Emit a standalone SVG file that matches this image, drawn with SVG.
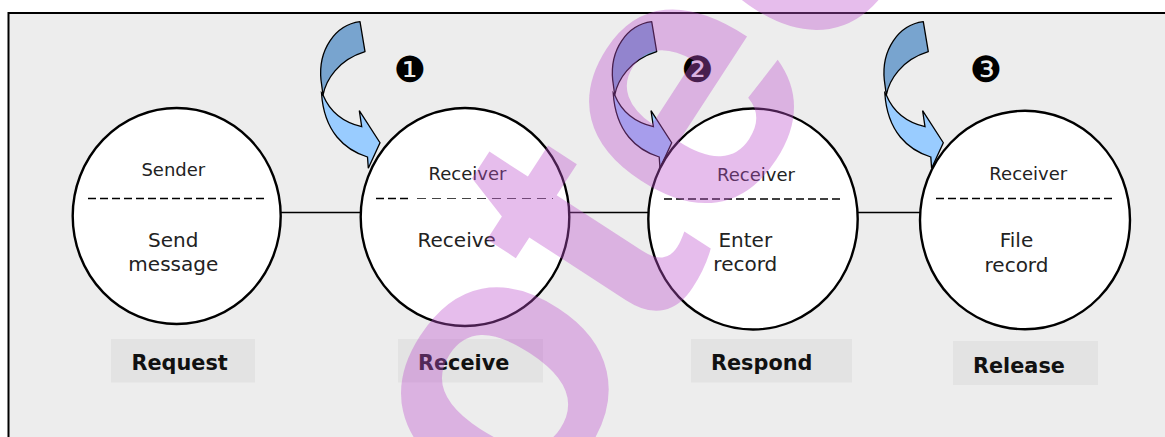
<svg xmlns="http://www.w3.org/2000/svg" width="1165" height="437" viewBox="0 0 1165 437">
  <style>
    .frame { fill: #ededed; stroke: #000; stroke-width: 2; }
    .node { fill: #fff; stroke: #000; stroke-width: 2.4; }
    .link { stroke: #000; stroke-width: 1.7; fill: none; }
    .divider { stroke: #000; stroke-width: 1.6; stroke-dasharray: 8 4; fill: none; }
    .divider-thin { stroke: #444; stroke-width: 1; stroke-dasharray: 9 6; fill: none; }
    .role { font-family: "DejaVu Sans", Verdana, sans-serif; font-size: 18px; fill: #222; text-anchor: middle; }
    .task { font-family: "DejaVu Sans", Verdana, sans-serif; font-size: 20px; fill: #222; text-anchor: middle; }
    .stage-box { fill: #e3e3e3; }
    .stage { font-family: "DejaVu Sans", Verdana, sans-serif; font-size: 20.8px; font-weight: bold; fill: #111; }
    .step { font-family: "DejaVu Sans", sans-serif; font-size: 36px; fill: #000; text-anchor: middle; }
    .band-back { fill: #78a4cf; stroke: #000; stroke-width: 1.3; stroke-linejoin: round; }
    .band-front { fill: #99ccff; stroke: #000; stroke-width: 1.3; stroke-linejoin: miter; }
    .mark { font-family: "Liberation Sans", Arial, sans-serif; font-weight: bold; font-size: 370px; fill: #be52cd; fill-opacity: 0.38; }
  </style>
  <defs>
    <!-- curved "enter" arrow dropping onto the top-left of a node -->
    <g id="curved-arrow">
      <path class="band-front" d="M323,95 C330,112 342,122 361.7,126.7 L359.3,110.7 L380,142.7 L368.3,168.3 L367.5,157 C345,150 324,132 321.5,93 Z"/>
      <path class="band-back" d="M360,21.7 C335,25 318,50 321,80 L323,95 C326,80 338,60 365,51.7 Z"/>
    </g>
  </defs>

  <rect width="1165" height="437" fill="#fff"/>
  <rect id="frame" class="frame" x="8.5" y="13" width="1170" height="440"/>

  <!-- lines joining the four stages -->
  <g id="connectors">
    <line class="link" x1="280" y1="212.5" x2="361" y2="212.5"/>
    <line class="link" x1="569" y1="212.5" x2="649" y2="212.5"/>
    <line class="link" x1="857" y1="212.5" x2="921" y2="212.5"/>
  </g>

  <g id="arrows">
    <use href="#curved-arrow"/>
    <use href="#curved-arrow" transform="translate(291.7,0)"/>
    <use href="#curved-arrow" transform="translate(563.3,0)"/>
  </g>

  <g id="steps">
    <text class="step" x="409.7" y="82">❶</text>
    <text class="step" x="697.5" y="82">❷</text>
    <text class="step" x="986" y="82">❸</text>
  </g>

  <g id="node-request">
    <ellipse class="node" cx="176.7" cy="216" rx="104" ry="108"/>
    <text class="role" x="173.3" y="175.7">Sender</text>
    <line class="divider" x1="88" y1="198.5" x2="266" y2="198.5"/>
    <text class="task" x="173.3" y="247.3">Send</text>
    <text class="task" x="173.3" y="270.7">message</text>
    <rect class="stage-box" x="111" y="339" width="144" height="43.5"/>
    <text class="stage" x="131.5" y="370">Request</text>
  </g>

  <g id="node-receive">
    <ellipse class="node" cx="465" cy="217" rx="104.3" ry="109"/>
    <text class="role" x="467.5" y="180">Receiver</text>
    <line class="divider" x1="376" y1="198.5" x2="410" y2="198.5"/>
    <line class="divider-thin" x1="417" y1="198.5" x2="553" y2="198.5"/>
    <text class="task" x="456.7" y="246.7">Receive</text>
    <rect class="stage-box" x="398" y="339" width="145" height="43.5"/>
    <text class="stage" x="418" y="370">Receive</text>
  </g>

  <g id="node-respond">
    <ellipse class="node" cx="753" cy="219" rx="104.7" ry="110.5"/>
    <text class="role" x="756" y="181">Receiver</text>
    <line class="divider" x1="664" y1="199" x2="842" y2="199"/>
    <text class="task" x="745.3" y="246.7">Enter</text>
    <text class="task" x="745.3" y="270.7">record</text>
    <rect class="stage-box" x="691" y="339" width="161" height="43.5"/>
    <text class="stage" x="711" y="370">Respond</text>
  </g>

  <g id="node-release">
    <ellipse class="node" cx="1025" cy="220" rx="105" ry="109.3"/>
    <text class="role" x="1028.3" y="180">Receiver</text>
    <line class="divider" x1="936" y1="198.5" x2="1114" y2="198.5"/>
    <text class="task" x="1016.5" y="246.7">File</text>
    <text class="task" x="1016.5" y="271.5">record</text>
    <rect class="stage-box" x="953" y="341" width="145" height="44"/>
    <text class="stage" x="973" y="372.7">Release</text>
  </g>

  <!-- translucent diagonal watermark lettering over the whole sheet -->
  <g id="watermark" pointer-events="none">
    <text class="mark" transform="translate(447,660) rotate(-57)">rotec</text>
  </g>
</svg>
